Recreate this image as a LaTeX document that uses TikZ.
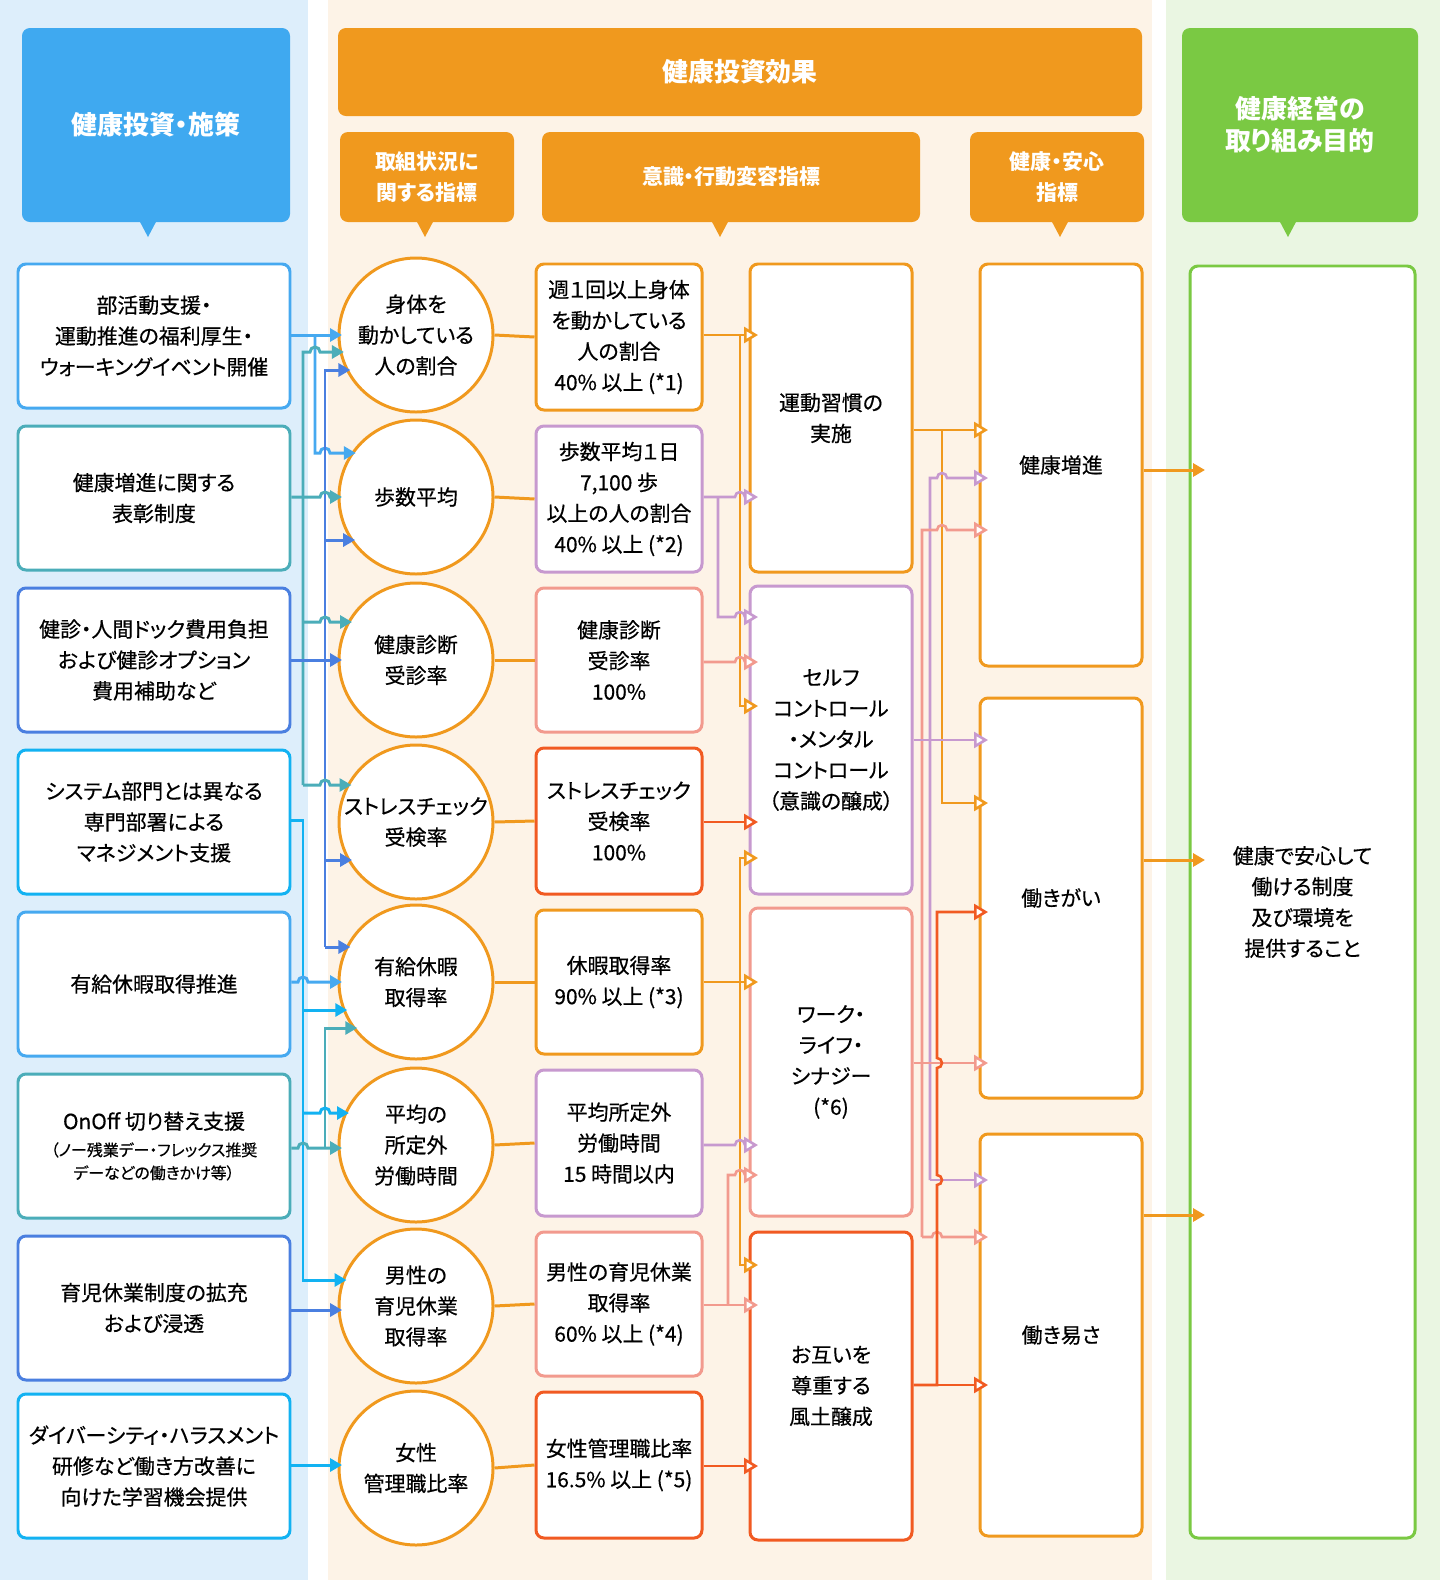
\documentclass[tikz,border=0pt]{standalone}
\usepackage{fontspec}
\setmainfont{Noto Sans CJK JP}[RawFeature=+palt]
\newfontfamily\med{Noto Sans CJK JP}[FakeBold=0.5,RawFeature=+palt]
\usetikzlibrary{arrows.meta}
\definecolor{bgL}{HTML}{DDEEFB}
\definecolor{bgM}{HTML}{FDF3E7}
\definecolor{bgR}{HTML}{EAF6E2}
\definecolor{hB}{HTML}{3FA9F0}
\definecolor{hO}{HTML}{F0991E}
\definecolor{hG}{HTML}{7AC943}
\definecolor{cLB}{HTML}{46A9F0}
\definecolor{cT}{HTML}{4BADB9}
\definecolor{cR}{HTML}{4A7FE0}
\definecolor{cC}{HTML}{12B2F2}
\definecolor{cP}{HTML}{C799CF}
\definecolor{cS}{HTML}{F29A8E}
\definecolor{cX}{HTML}{F15A22}
\newcommand\bx[7]{\node[box,draw=#6,minimum width={(#4-#2)*0.5bp},minimum height={(#5-#3)*0.5bp}] (#1) at ({(#2+#4)/2},{(#3+#5)/2}) {#7};}
\newcommand\hd[7]{\node[hdr,fill=#6,minimum width={(#4-#2)*0.5bp},minimum height={(#5-#3)*0.5bp}] (#1) at ({(#2+#4)/2},{(#3+#5)/2}) {#7};}
\newcommand\ptr[3]{\fill[#1] ({#2-9},{#3-2}) -- ({#2+9},{#3-2}) -- (#2,{#3+15}) -- cycle;}
\newcommand\ce[2]{({419-sqrt(5929-(#2-#1)*(#2-#1))},#2)}
\newcommand\hp[2]{-- ({#1-5},#2) arc[start angle=180,end angle=0,radius=2.5bp]}
\begin{document}
\begin{tikzpicture}[x=0.5bp,y=-0.5bp,
 box/.style={rounded corners=4pt,line width=1.5pt,fill=white,align=center,inner sep=0pt,font=\med\fontsize{10.5}{15.5}\selectfont},
 hdr/.style={rounded corners=4pt,align=center,inner sep=0pt,text=white,font=\bfseries\fontsize{13}{16}\selectfont},
 shdr/.style={hdr,font=\bfseries\fontsize{10.5}{15}\selectfont},
 circ/.style={circle,draw=hO,line width=1.5pt,fill=white,minimum size=77bp,inner sep=0pt,align=center,font=\med\fontsize{10.5}{15.5}\selectfont},
 la/.style={line width=1.5pt,-{Triangle[length=6pt,width=6.5pt]}},
 ra/.style={line width=1.3pt,-{Triangle[fill=white,length=7pt,width=8pt]}},
 ga/.style={line width=1.5pt,draw=hO,-{Triangle[length=6pt,width=6.5pt]}}]
\useasboundingbox (0,0) rectangle (1440,1580);
\fill[white] (0,0) rectangle (1440,1580);
\fill[bgL] (0,0) rectangle (308,1580);
\fill[bgM] (328,0) rectangle (1152,1580);
\fill[bgR] (1166,0) rectangle (1440,1580);
% headers
\hd{H1}{22}{28}{290}{222}{hB}{健康投資・施策}
\ptr{hB}{148}{222}
\hd{H2}{338}{28}{1142}{116}{hO}{健康投資効果}
\hd{S1}{340}{132}{514}{222}{hO}{\fontsize{10.5}{15}\selectfont 取組状況に\\\fontsize{10.5}{15}\selectfont 関する指標}
\ptr{hO}{425}{222}
\hd{S2}{542}{132}{920}{222}{hO}{\fontsize{10.5}{15}\selectfont 意識・行動変容指標}
\ptr{hO}{720}{222}
\hd{S3}{970}{132}{1144}{222}{hO}{\fontsize{10.5}{15}\selectfont 健康・安心\\\fontsize{10.5}{15}\selectfont 指標}
\ptr{hO}{1060}{222}
\hd{H3}{1182}{28}{1418}{222}{hG}{健康経営の\\取り組み目的}
\ptr{hG}{1288}{222}
% left boxes
\bx{L1}{18}{264}{290}{408}{cLB}{部活動支援・\\運動推進の福利厚生・\\ウォーキングイベント開催}
\bx{L2}{18}{426}{290}{570}{cT}{健康増進に関する\\表彰制度}
\bx{L3}{18}{588}{290}{732}{cR}{健診・人間ドック費用負担\\および健診オプション\\費用補助など}
\bx{L4}{18}{750}{290}{894}{cC}{システム部門とは異なる\\専門部署による\\マネジメント支援}
\bx{L5}{18}{912}{290}{1056}{cLB}{有給休暇取得推進}
\bx{L6}{18}{1074}{290}{1218}{cT}{OnOff 切り替え支援\\[-2pt]{\fontsize{8}{11}\selectfont（ノー残業デー・フレックス推奨}\\[-4pt]{\fontsize{8}{11}\selectfont デーなどの働きかけ等）}}
\bx{L7}{18}{1236}{290}{1380}{cR}{育児休業制度の拡充\\および浸透}
\bx{L8}{18}{1394}{290}{1538}{cC}{ダイバーシティ・ハラスメント\\研修など働き方改善に\\向けた学習機会提供}
% circles
\node[circ] (C1) at (416,335) {身体を\\動かしている\\人の割合};
\node[circ] (C2) at (416,497) {歩数平均};
\node[circ] (C3) at (416,660) {健康診断\\受診率};
\node[circ] (C4) at (416,822) {ストレスチェック\\受検率};
\node[circ] (C5) at (416,982) {有給休暇\\取得率};
\node[circ] (C6) at (416,1145) {平均の\\所定外\\労働時間};
\node[circ] (C7) at (416,1306) {男性の\\育児休業\\取得率};
\node[circ] (C8) at (416,1468) {女性\\管理職比率};
% middle boxes
\bx{M1}{536}{264}{702}{410}{hO}{週１回以上身体\\を動かしている\\人の割合\\40\% 以上 (*1)}
\bx{M2}{536}{426}{702}{572}{cP}{歩数平均１日\\7,100 歩\\以上の人の割合\\40\% 以上 (*2)}
\bx{M3}{536}{588}{702}{732}{cS}{健康診断\\受診率\\100\%}
\bx{M4}{536}{748}{702}{894}{cX}{ストレスチェック\\受検率\\100\%}
\bx{M5}{536}{910}{702}{1054}{hO}{休暇取得率\\90\% 以上 (*3)}
\bx{M6}{536}{1070}{702}{1216}{cP}{平均所定外\\労働時間\\15 時間以内}
\bx{M7}{536}{1232}{702}{1376}{cS}{男性の育児休業\\取得率\\60\% 以上 (*4)}
\bx{M8}{536}{1392}{702}{1538}{cX}{女性管理職比率\\16.5\% 以上 (*5)}
% circle -> middle
\foreach \i in {1,...,8}{\draw[hO,line width=1.5pt] (C\i.east) -- (M\i.west);}
% right boxes
\bx{R1}{750}{264}{912}{572}{hO}{運動習慣の\\実施}
\bx{R2}{750}{586}{912}{894}{cP}{セルフ\\コントロール\\・メンタル\\コントロール\\（意識の醸成）}
\bx{R3}{750}{908}{912}{1216}{cS}{ワーク・\\ライフ・\\シナジー\\(*6)}
\bx{R4}{750}{1232}{912}{1540}{cX}{お互いを\\尊重する\\風土醸成}
% health boxes
\bx{K1}{980}{264}{1142}{666}{hO}{健康増進}
\bx{K2}{980}{698}{1142}{1098}{hO}{働きがい}
\bx{K3}{980}{1134}{1142}{1536}{hO}{働き易さ}
\bx{G}{1190}{266}{1415}{1538}{hG}{健康で安心して\\働ける制度\\及び環境を\\提供すること}
% left connectors
\draw[la,cLB] (L1.east|-0,335) -- \ce{335}{335};
\draw[la,cLB] (315,335) -- (315,453) \hp{325}{453} -- \ce{497}{453};
\draw[la,cT] (303,785) -- (303,352) \hp{315}{352} -- \ce{335}{352};
\draw[la,cR] (325,947) -- (325,370) -- \ce{335}{370};
\draw[la,cT] (L2.east|-0,497) \hp{325}{497} -- \ce{497}{497};
\draw[la,cR] (325,540) -- \ce{497}{540};
\draw[la,cT] (303,622) \hp{325}{622} -- \ce{660}{622};
\draw[la,cR] (L3.east|-0,660) -- \ce{660}{660};
\draw[la,cT] (303,785) \hp{325}{785} -- \ce{822}{785};
\draw[la,cR] (325,860) -- \ce{822}{860};
\draw[la,cR] (325,947) -- \ce{982}{947};
\draw[la,cC] (L4.east|-0,820) -- (303,820) -- (303,1280) -- \ce{1306}{1280};
\draw[la,cLB] (L5.east|-0,982) \hp{303}{982} -- \ce{982}{982};
\draw[la,cC] (303,1010) -- \ce{982}{1010};
\draw[la,cT] (325,1148) -- (325,1028) -- \ce{982}{1028};
\draw[la,cC] (303,1113) \hp{325}{1113} -- \ce{1145}{1113};
\draw[la,cT] (L6.east|-0,1148) \hp{303}{1148} -- \ce{1145}{1148};
\draw[la,cR] (L7.east|-0,1310) -- \ce{1306}{1310};
\draw[la,cC] (L8.east|-0,1465) -- \ce{1468}{1465};
% middle connectors
\draw[ra,hO] (M1.east|-0,335) -- (758,335);
\draw[ra,hO] (740,335) -- (740,706) -- (758,706);
\draw[ra,cP] (M2.east|-0,497) \hp{740}{497} -- (758,497);
\draw[ra,cP] (718,497) -- (718,617) \hp{740}{617} -- (758,617);
\draw[ra,cS] (M3.east|-0,662) \hp{740}{662} -- (758,662);
\draw[ra,cX] (M4.east|-0,822) -- (758,822);
\draw[ra,hO] (740,1265) -- (740,858) -- (758,858);
\draw[ra,hO] (M5.east|-0,982) -- (758,982);
\draw[ra,hO] (740,1100) -- (740,1265) -- (758,1265);
\draw[ra,cP] (M6.east|-0,1145) \hp{740}{1145} -- (758,1145);
\draw[ra,cS] (M7.east|-0,1305) -- (758,1305);
\draw[ra,cS] (728,1305) -- (728,1175) \hp{740}{1175} -- (758,1175);
\draw[ra,cX] (M8.east|-0,1466) -- (758,1466);
% right connectors
\draw[ra,hO] (R1.east|-0,430) -- (988,430);
\draw[ra,hO] (942,430) -- (942,803) -- (988,803);
\draw[ra,cP] (930,1180) -- (930,478) \hp{942}{478} -- (988,478);
\draw[ra,cS] (922,1237) -- (922,530) \hp{942}{530} -- (988,530);
\draw[ra,cP] (R2.east|-0,740) -- (988,740);
\draw[ra,cS] (R3.east|-0,1063) -- (988,1063);
\draw[ra,cP] (930,1180) -- (988,1180);
\draw[ra,cS] (922,1237) \hp{937}{1237} -- (988,1237);
\draw[ra,cX] (R4.east|-0,1385) -- (937,1385) -- (937,1185) arc[start angle=-90,end angle=90,radius=2.5bp] -- (937,1068) arc[start angle=-90,end angle=90,radius=2.5bp] -- (937,912) -- (988,912);
\draw[ra,cX] (937,1385) -- (988,1385);
% to goal
\draw[ga] (K1.east|-0,470) -- (1205,470);
\draw[ga] (K2.east|-0,860) -- (1205,860);
\draw[ga] (K3.east|-0,1215) -- (1205,1215);
\end{tikzpicture}
\end{document}
